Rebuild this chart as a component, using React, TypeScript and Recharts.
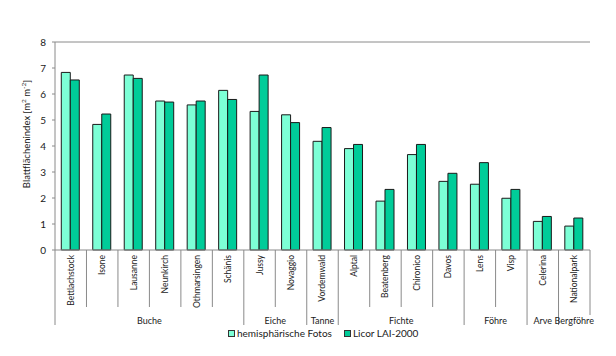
import React from "react";
import {
  BarChart,
  Bar,
  XAxis,
  YAxis,
  Legend,
  ReferenceLine,
} from "recharts";

const categories = [
  "Bettlachstock", "Isone", "Lausanne", "Neunkirch", "Othmarsingen", "Schänis",
  "Jussy", "Novaggio", "Vordemwald", "Alptal", "Beatenberg", "Chironico",
  "Davos", "Lens", "Visp", "Celerina", "Nationalpark",
];
const hemiFotos = [6.83, 4.83, 6.73, 5.73, 5.58, 6.14, 5.33, 5.2, 4.18, 3.9, 1.88, 3.67, 2.64, 2.53, 1.99, 1.1, 0.92];
const licor = [6.54, 5.23, 6.6, 5.69, 5.73, 5.79, 6.73, 4.9, 4.71, 4.06, 2.33, 4.06, 2.95, 3.36, 2.33, 1.29, 1.23];
const groupNames = ["Buche", "Eiche", "Tanne", "Fichte", "Föhre", "Arve", "Bergföhre"];
const groupSizes = [6, 2, 1, 4, 2, 1, 1];
const yTicks = [0, 1, 2, 3, 4, 5, 6, 7, 8];

const LIGHT = "#7dffd6";
const DARK = "#00cc99";
const FRAME = "#8a8a8a";
const FONT = "Lato, 'Open Sans', sans-serif";

const W = 616;
const H = 356;
const PLOT_LEFT = 55;
const PLOT_RIGHT = 26;
const PLOT_W = W - PLOT_LEFT - PLOT_RIGHT;

const data = categories.map((name, i) => ({ name, hemi: hemiFotos[i], licor: licor[i] }));

// index of first category in each group
const groupStarts: number[] = [];
groupSizes.reduce((acc, n) => {
  groupStarts.push(acc);
  return acc + n;
}, 0);

function CategoryTick(props: any) {
  const { x, y, payload } = props;
  const i = categories.indexOf(payload.value);
  const band = payload.offset ? payload.offset * 2 : PLOT_W / categories.length;
  const left = x - band / 2;
  const g = groupStarts.indexOf(i);
  const isLast = i === categories.length - 1;
  return (
    <g>
      <line x1={left} y1={y} x2={left} y2={y + (g >= 0 ? 75 : 57)} stroke={FRAME} strokeWidth={1} />
      {isLast && (
        <line x1={left + band} y1={y} x2={left + band} y2={y + 65} stroke={FRAME} strokeWidth={1} />
      )}
      <text
        x={x}
        y={y + 5}
        transform={`rotate(-90, ${x}, ${y + 5})`}
        textAnchor="end"
        dy="0.35em"
        fontSize={8.5}
        fontFamily={FONT}
        fill="#1a1a1a"
      >
        {payload.value}
      </text>
      {g >= 0 && (
        <text
          x={left + (groupSizes[g] * band) / 2}
          y={y + 74}
          textAnchor="middle"
          fontSize={9}
          fontFamily={FONT}
          fill="#1a1a1a"
        >
          {groupNames[g]}
        </text>
      )}
    </g>
  );
}

function YLabel(props: any) {
  const { viewBox } = props;
  const x = viewBox.x + viewBox.width - 25;
  const y = viewBox.y + viewBox.height / 2 - 12;
  return (
    <text
      x={x}
      y={y}
      transform={`rotate(-90, ${x}, ${y})`}
      textAnchor="middle"
      fontSize={9.5}
      fontFamily={FONT}
      fill="#1a1a1a"
    >
      Blattflächenindex [m
      <tspan fontSize={6.5} dy={-4}>2</tspan>
      <tspan dy={4}> m</tspan>
      <tspan fontSize={6.5} dy={-4}>-2</tspan>
      <tspan dy={4}>]</tspan>
    </text>
  );
}

function LegendContent() {
  const items = [
    { label: "hemisphärische Fotos", color: LIGHT },
    { label: "Licor LAI-2000", color: DARK },
  ];
  return (
    <div style={{ display: "flex", gap: 12, fontFamily: FONT, fontSize: 10, color: "#1a1a1a" }}>
      {items.map((it) => (
        <span key={it.label} style={{ display: "flex", alignItems: "center", gap: 2 }}>
          <span
            style={{
              width: 5,
              height: 5,
              background: it.color,
              border: "1px solid #333",
              display: "inline-block",
            }}
          />
          {it.label}
        </span>
      ))}
    </div>
  );
}

export default function App() {
  return (
    <div style={{ width: W, height: H, background: "#fff" }}>
      <style>{"body{margin:0}"}</style>
      <BarChart
        width={W}
        height={H}
        data={data}
        margin={{ top: 42, right: PLOT_RIGHT, left: 0, bottom: 0 }}
        barCategoryGap="20%"
        barGap={0}
      >
        <XAxis
          dataKey="name"
          height={106}
          interval={0}
          tickLine={false}
          tickSize={0}
          tickMargin={0}
          axisLine={{ stroke: FRAME }}
          tick={<CategoryTick />}
        />
        <YAxis
          width={PLOT_LEFT}
          domain={[0, 8]}
          ticks={yTicks}
          tickSize={3}
          tickMargin={6}
          axisLine={{ stroke: FRAME }}
          tickLine={{ stroke: FRAME }}
          tick={{ fontSize: 10, fontFamily: FONT, fill: "#1a1a1a" }}
          label={<YLabel />}
        />
        <YAxis
          yAxisId="right"
          orientation="right"
          width={0}
          domain={[0, 8]}
          tick={false}
          tickLine={false}
          axisLine={{ stroke: FRAME }}
        />
        <ReferenceLine y={8} stroke={FRAME} />
        <Legend
          layout="vertical"
          align="center"
          verticalAlign="middle"
          content={<LegendContent />}
          wrapperStyle={{ top: 327, left: 228, width: "auto", height: "auto" }}
        />
        <Bar dataKey="hemi" name="hemisphärische Fotos" fill={LIGHT} stroke="#1a1a1a" strokeWidth={1} isAnimationActive={false} />
        <Bar dataKey="licor" name="Licor LAI-2000" fill={DARK} stroke="#1a1a1a" strokeWidth={1} isAnimationActive={false} />
      </BarChart>
    </div>
  );
}
